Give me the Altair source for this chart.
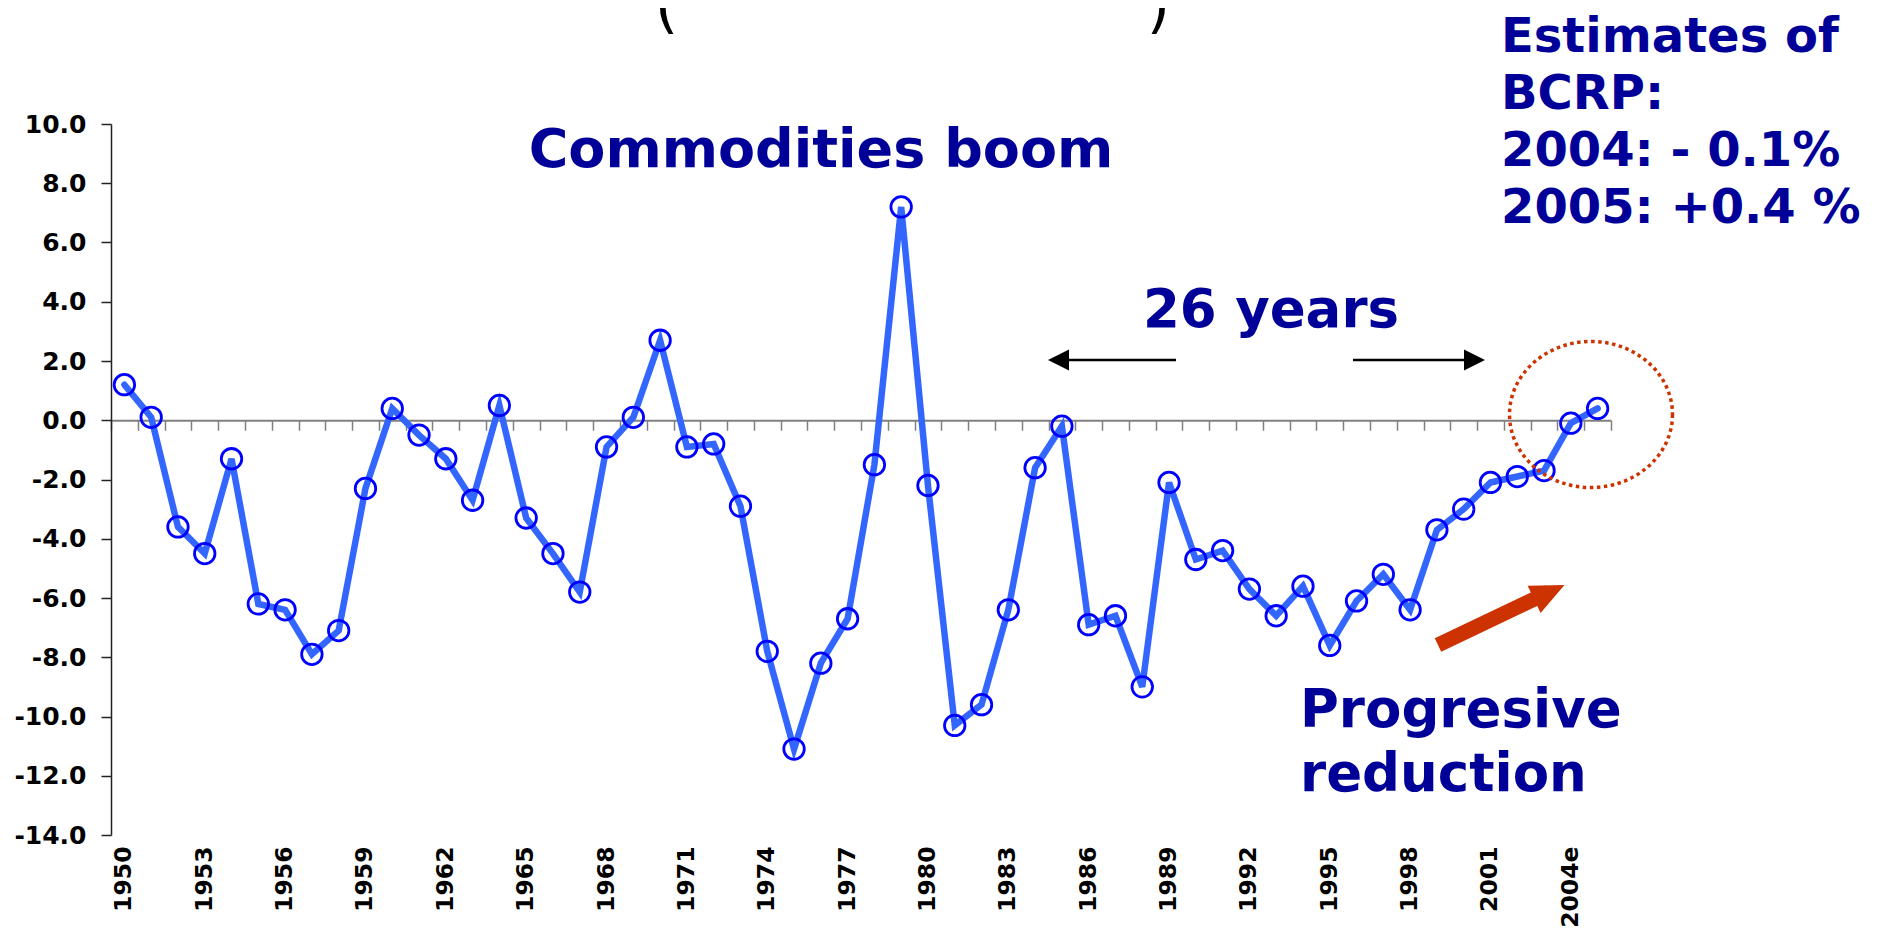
import altair as alt
import pandas as pd

# ---- data ----
years = [str(y) for y in range(1950, 2004)] + ["2004e", "2005e"]
balance = [1.2, 0.1, -3.6, -4.5, -1.3, -6.2, -6.4, -7.9, -7.1, -2.3,
           0.4, -0.5, -1.3, -2.7, 0.5, -3.3, -4.5, -5.8, -0.9, 0.1,
           2.7, -0.9, -0.8, -2.9, -7.8, -11.1, -8.2, -6.7, -1.5, 7.2,
           -2.2, -10.3, -9.6, -6.4, -1.6, -0.2, -6.9, -6.6, -9.0, -2.1,
           -4.7, -4.4, -5.7, -6.6, -5.6, -7.6, -6.1, -5.2, -6.4, -3.7,
           -3.0, -2.1, -1.9, -1.7, -0.1, 0.4]
y_ticks = [-14, -12, -10, -8, -6, -4, -2, 0, 2, 4, 6, 8, 10]
x_labels = ["1950", "1953", "1956", "1959", "1962", "1965", "1968", "1971",
            "1974", "1977", "1980", "1983", "1986", "1989", "1992", "1995",
            "1998", "2001", "2004e"]
note_boom = "Commodities boom"
note_years = "26 years"
note_bcrp = ["Estimates of", "BCRP:", "2004: - 0.1%", "2005: +0.4 %"]
note_reduction = ["Progresive", "reduction"]

W, H = 1500, 711
NAVY = "#000099"
RED = "#CC3300"
AXIS_FONT = "DejaVu Sans"

df = pd.DataFrame({"year": years, "value": balance})
one = pd.DataFrame({"k": [0]})

xscale = alt.Scale(type="band", paddingInner=0, paddingOuter=0)
yscale = alt.Scale(domain=[-14, 10], nice=False, zero=False)

yaxis = alt.Axis(values=y_ticks,
                 labelExpr="(datum.value < 0 ? '-' : '') + format(abs(datum.value), '.1f')",
                 labelFont=AXIS_FONT, labelFontSize=25, labelFontWeight="bold",
                 labelColor="black", labelPadding=15, tickSize=10, tickWidth=1.5,
                 tickColor="#222222", domainColor="#222222", domainWidth=1.5,
                 grid=False, title=None)

label_axis = alt.Axis(orient="bottom", values=x_labels, labelAngle=270,
                      labelFont=AXIS_FONT, labelFontSize=23.5, labelFontWeight="bold",
                      labelColor="black", labelPadding=11, ticks=False, tickSize=0,
                      domain=False, grid=False, title=None, labelOverlap=False,
                      labelFlush=False)

zero_axis = alt.Axis(orient="bottom", offset=-(H * 14 / 24), labels=False, ticks=True,
                     tickBand="extent", tickSize=10, tickWidth=1.5, tickColor="#808080",
                     domainColor="#808080", domainWidth=2, grid=False, title=None)

line = alt.Chart(df).mark_line(color="#3366FF", strokeWidth=6.5, strokeCap="round").encode(
    x=alt.X("year:O", sort=years, scale=xscale, bandPosition=0.5, axis=label_axis),
    y=alt.Y("value:Q", scale=yscale, axis=yaxis),
)
pts = alt.Chart(df).mark_point(shape="circle", size=420, filled=False, color="#0000FF",
                               strokeWidth=2.8, opacity=1).encode(
    x=alt.X("year:O", sort=years, scale=xscale, bandPosition=0.5, axis=zero_axis),
    y=alt.Y("value:Q", scale=yscale, axis=yaxis),
)


def txt(text, x, y, size, lh=None, align="left", color=NAVY, weight="bold", font="DejaVu Sans"):
    kw = dict(align=align, baseline="alphabetic", font=font, fontSize=size,
              fontWeight=weight, color=color)
    if lh:
        kw["lineHeight"] = lh
    return alt.Chart(one).mark_text(**kw).encode(
        x=alt.value(x), y=alt.value(y), text=alt.value(text))


def rule(x1, x2, y1, y2, color, width):
    return alt.Chart(one).mark_rule(color=color, strokeWidth=width, strokeCap="butt").encode(
        x=alt.value(x1), x2=alt.value(x2), y=alt.value(y1), y2=alt.value(y2))


def sym(path, x, y, size, color, angle=0):
    return alt.Chart(one).mark_point(shape=path, size=size, angle=angle, filled=True,
                                     color=color, opacity=1, strokeWidth=0).encode(
        x=alt.value(x), y=alt.value(y))


HEAD_R = "M-1,-1L1,0L-1,1Z"
HEAD_L = "M1,-1L-1,0L1,1Z"
RED_HEAD = "M-1,-0.9L1,0L-1,0.9Z"
ELLIPSE = ("M1,0C1,0.4949,0.5523,0.896,0,0.896C-0.5523,0.896,-1,0.4949,-1,0"
           "C-1,-0.4949,-0.5523,-0.896,0,-0.896C0.5523,-0.896,1,-0.4949,1,0Z")

ellipse = alt.Chart(one).mark_point(shape=ELLIPSE, size=163 * 163, filled=False,
                                    stroke=RED, strokeWidth=3.5, strokeDash=[3.5, 3.5],
                                    opacity=1).encode(x=alt.value(1480), y=alt.value(290.5))

layers = [
    line, pts,
    txt(note_boom, 710, 43, 54, align="center"),
    txt(note_years, 1160, 203, 53, align="center"),
    txt(note_bcrp, 1390, -72, 48, lh=57),
    txt(note_reduction, 1189, 603, 53, lh=64),
    txt("(", 555.5, -98, 60, color="black", weight="normal", align="center"),
    txt(")", 1047.5, -98, 60, color="black", weight="normal", align="center"),
    rule(947, 1065, 236, 236, "black", 2.5),
    sym(HEAD_L, 947.5, 236, 441, "black"),
    rule(1242, 1364, 236, 236, "black", 2.5),
    sym(HEAD_R, 1363.5, 236, 441, "black"),
    rule(1327, 1438, 521, 468, RED, 15),
    sym(RED_HEAD, 1438.3, 468.2, 1129, RED, angle=334.6),
    ellipse,
]

chart = alt.layer(*layers).resolve_axis(x="independent").properties(
    width=W, height=H,
    autosize=alt.AutoSizeParams(type="none"),
    padding={"left": 103, "top": 116, "right": 259, "bottom": 94},
    background="white",
).configure_view(stroke=None)

chart.save("out.html", embed_options={"renderer": "svg", "actions": False})
